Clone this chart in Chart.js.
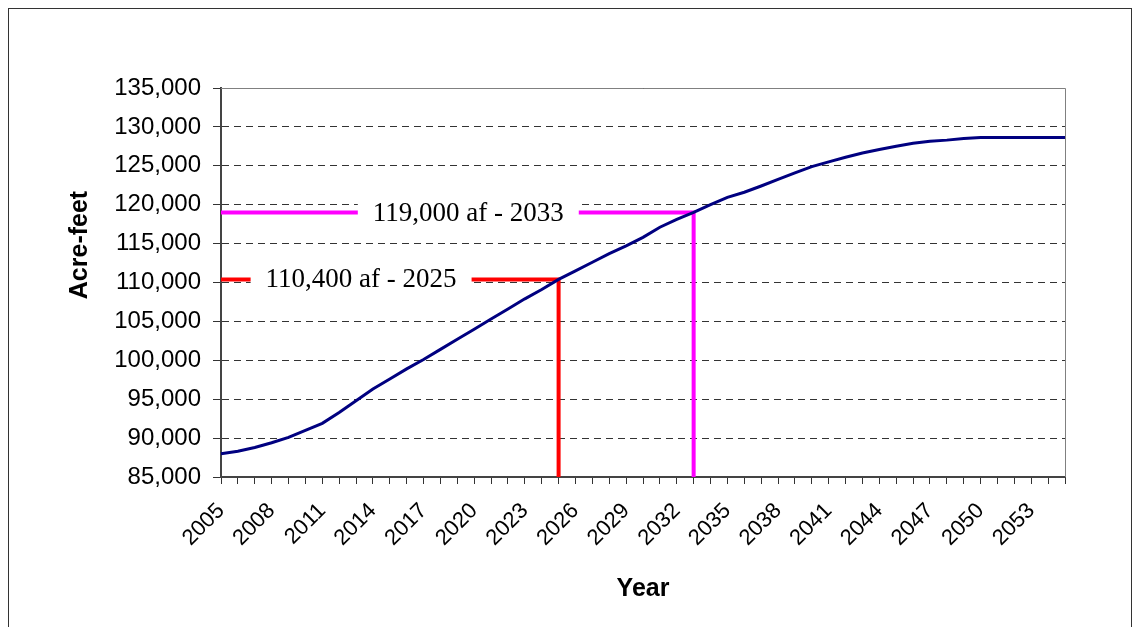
<!DOCTYPE html>
<html>
<head>
<meta charset="utf-8">
<script src="https://cdn.jsdelivr.net/npm/chart.js@4.4.1/dist/chart.umd.min.js"></script>
<style>
  html, body { margin: 0; padding: 0; background: #fff; }
  #wrap { width: 1140px; height: 627px; position: relative; }
</style>
</head>
<body>
<div id="wrap"><canvas id="c" width="1140" height="627"></canvas></div>
<script>
// Projected annual demand, acre-feet
const years = [];
for (let y = 2005; y <= 2055; y++) years.push(String(y));

const demand = [
  88000, 88300, 88800, 89400, 90100, 91000, 91900, 93300, 94800, 96300,
  97600, 98900, 100100, 101400, 102700, 104000, 105300, 106600, 107900, 109100,
  110400, 111500, 112600, 113700, 114700, 115800, 117100, 118100, 119000, 120000,
  120950, 121600, 122400, 123250, 124100, 124900, 125500, 126100, 126650, 127100,
  127500, 127900, 128150, 128300, 128500, 128650, 128650, 128650, 128650, 128650,
  128650
];

// Milestones marked on the chart
const milestoneYears = ['2025', '2033'];
const milestoneValues = [110400, 119000];
const milestoneLabels = ['110,400 af - 2025', '119,000 af - 2033'];
const milestoneColors = ['#ff0000', '#ff00ff'];

const yTicks = { min: 85000, max: 135000, step: 5000 };

function milestoneData(i) {
  return [
    { x: years[0], y: milestoneValues[i] },
    { x: milestoneYears[i], y: milestoneValues[i] },
    { x: milestoneYears[i], y: yTicks.min }
  ];
}

const milestoneSets = milestoneYears.map((yr, i) => ({
  label: milestoneLabels[i],
  data: milestoneData(i),
  borderColor: milestoneColors[i],
  borderWidth: 4,
  pointRadius: 0,
  tension: 0,
  fill: false
}));

// label centres, expressed in category-index units along the x axis
const labelCentres = [8.3, 14.65];

const decor = {
  id: 'decor',
  beforeDraw(chart) {
    const ctx = chart.ctx;
    ctx.save();
    ctx.fillStyle = '#fff';
    ctx.fillRect(0, 0, chart.width, chart.height);
    ctx.strokeStyle = '#333';
    ctx.lineWidth = 1;
    ctx.strokeRect(8.5, 8.5, 1123, 700);
    ctx.restore();
  },
  beforeDatasetsDraw(chart) {
    const { ctx, chartArea: a } = chart;
    ctx.save();
    ctx.strokeStyle = '#808080';
    ctx.lineWidth = 1;
    ctx.beginPath();
    ctx.moveTo(a.left, a.top + 0.5);
    ctx.lineTo(a.right + 0.5, a.top + 0.5);
    ctx.lineTo(a.right + 0.5, a.bottom);
    ctx.stroke();
    ctx.restore();
  },
  afterDatasetsDraw(chart) {
    const { ctx } = chart;
    const xs = chart.scales.x, ys = chart.scales.y;
    ctx.save();
    ctx.font = '27px "Liberation Serif", "Times New Roman", serif';
    ctx.textAlign = 'center';
    ctx.textBaseline = 'middle';
    milestoneLabels.forEach((txt, i) => {
      const cx = xs.getPixelForValue(labelCentres[i]);
      const cy = ys.getPixelForValue(milestoneValues[i]);
      const w = ctx.measureText(txt).width + 30;
      ctx.fillStyle = '#fff';
      ctx.fillRect(cx - w / 2, cy - 14, w, 28);
      ctx.fillStyle = '#000';
      ctx.fillText(txt, cx, cy + 1);
    });
    // vertical axis title
    ctx.font = 'bold 25px "Liberation Sans", Arial, sans-serif';
    ctx.translate(80, 245);
    ctx.rotate(-Math.PI / 2);
    ctx.fillText('Acre-feet', 0, 0);
    ctx.restore();
  }
};

new Chart(document.getElementById('c'), {
  type: 'line',
  data: {
    labels: years,
    datasets: [
      {
        label: 'Demand',
        data: demand,
        borderColor: '#000080',
        borderWidth: 3,
        pointRadius: 0,
        tension: 0,
        fill: false
      },
      ...milestoneSets
    ]
  },
  options: {
    responsive: false,
    animation: false,
    devicePixelRatio: 1,
    layout: { padding: { top: 88, right: 75, left: 0, bottom: 0 } },
    plugins: { legend: { display: false }, tooltip: { enabled: false } },
    scales: {
      x: {
        type: 'category',
        offset: false,
        afterFit(s) { s.height = 150; },
        grid: { drawOnChartArea: false, drawTicks: true, tickLength: 7, tickColor: '#333', tickWidth: 1 },
        border: { display: true, color: '#444', width: 2 },
        ticks: {
          autoSkip: false,
          minRotation: 45,
          maxRotation: 45,
          padding: 14,
          color: '#000',
          font: { family: '"Liberation Sans", Arial, sans-serif', size: 22 },
          callback(v, i) { return i % 3 === 0 ? years[i] : ''; }
        },
        title: {
          display: true,
          text: 'Year',
          color: '#000',
          font: { family: '"Liberation Sans", Arial, sans-serif', size: 25, weight: 'bold' },
          padding: { top: 0, bottom: 23 }
        }
      },
      y: {
        min: yTicks.min,
        max: yTicks.max,
        afterFit(s) { s.width = 221; },
        grid: { color: '#333', lineWidth: 1, drawTicks: true, tickLength: 8, tickColor: '#333', tickBorderDash: [] },
        border: { display: true, color: '#444', width: 2, dash: [7, 5] },
        ticks: {
          stepSize: yTicks.step,
          padding: 12,
          color: '#000',
          font: { family: '"Liberation Sans", Arial, sans-serif', size: 24 },
          callback(v) { return v.toLocaleString('en-US'); }
        }
      }
    }
  },
  plugins: [decor]
});
</script>
</body>
</html>
